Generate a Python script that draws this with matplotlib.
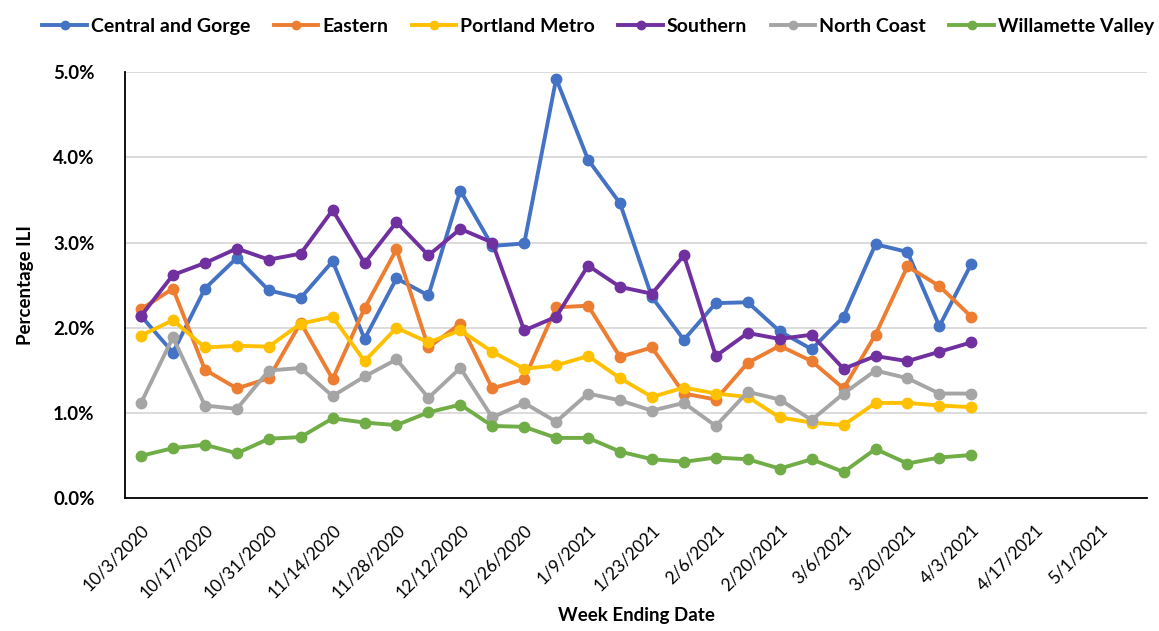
import matplotlib.pyplot as plt
from matplotlib.ticker import PercentFormatter

plt.rcParams['font.family'] = ['Lato', 'DejaVu Sans']

# week ending dates (category axis runs past the data to 5/8/2021)
weeks = ["10/3/2020", "10/10/2020", "10/17/2020", "10/24/2020", "10/31/2020",
         "11/7/2020", "11/14/2020", "11/21/2020", "11/28/2020", "12/5/2020",
         "12/12/2020", "12/19/2020", "12/26/2020", "1/2/2021", "1/9/2021",
         "1/16/2021", "1/23/2021", "1/30/2021", "2/6/2021", "2/13/2021",
         "2/20/2021", "2/27/2021", "3/6/2021", "3/13/2021", "3/20/2021",
         "3/27/2021", "4/3/2021", "4/10/2021", "4/17/2021", "4/24/2021",
         "5/1/2021", "5/8/2021"]

central_gorge = [2.14, 1.71, 2.46, 2.82, 2.44, 2.35, 2.78, 1.87, 2.58, 2.38,
                 3.61, 2.96, 2.99, 4.92, 3.97, 3.46, 2.36, 1.86, 2.29, 2.30,
                 1.96, 1.75, 2.13, 2.98, 2.89, 2.02, 2.75]
eastern = [2.22, 2.46, 1.51, 1.29, 1.41, 2.06, 1.40, 2.23, 2.92, 1.77,
           2.05, 1.29, 1.40, 2.24, 2.26, 1.66, 1.77, 1.23, 1.16, 1.59,
           1.79, 1.61, 1.29, 1.92, 2.72, 2.49, 2.13]
portland = [1.91, 2.09, 1.77, 1.79, 1.78, 2.05, 2.13, 1.61, 2.00, 1.83,
            1.97, 1.72, 1.52, 1.56, 1.67, 1.41, 1.19, 1.30, 1.23, 1.19,
            0.95, 0.89, 0.86, 1.12, 1.12, 1.09, 1.07]
southern = [2.14, 2.62, 2.76, 2.93, 2.80, 2.87, 3.38, 2.76, 3.24, 2.85,
            3.16, 3.00, 1.97, 2.13, 2.73, 2.48, 2.40, 2.85, 1.67, 1.94,
            1.87, 1.92, 1.52, 1.67, 1.61, 1.72, 1.83]
north_coast = [1.12, 1.89, 1.09, 1.05, 1.50, 1.53, 1.20, 1.43, 1.63, 1.18,
               1.53, 0.95, 1.12, 0.90, 1.23, 1.15, 1.03, 1.12, 0.85, 1.25,
               1.16, 0.92, 1.23, 1.50, 1.41, 1.23, 1.23]
willamette = [0.50, 0.59, 0.63, 0.53, 0.70, 0.72, 0.94, 0.89, 0.86, 1.01,
              1.10, 0.85, 0.84, 0.71, 0.71, 0.55, 0.46, 0.43, 0.48, 0.46,
              0.35, 0.46, 0.31, 0.58, 0.41, 0.48, 0.51]

series = [("Central and Gorge", central_gorge, '#4472C4'),
          ("Eastern", eastern, '#ED7D31'),
          ("Portland Metro", portland, '#FFC000'),
          ("Southern", southern, '#7030A0'),
          ("North Coast", north_coast, '#A5A5A5'),
          ("Willamette Valley", willamette, '#70AD47')]

fig = plt.figure(figsize=(11.59, 6.31), dpi=100)
ax = fig.add_axes([0.1079, 0.21, 0.8817, 0.676])

for name, vals, col in series:
    ax.plot(range(len(vals)), vals, '-o', color=col, lw=2.8, ms=7.5, label=name)

ax.set_xlim(-0.5, len(weeks) - 0.5)
ax.set_ylim(0, 5)
ax.set_yticks([0, 1, 2, 3, 4, 5])
ax.yaxis.set_major_formatter(PercentFormatter(decimals=1))
ax.grid(axis='y', color='#D9D9D9', lw=1.3)
ax.set_axisbelow(True)
for s in ['top', 'right']:
    ax.spines[s].set_visible(False)
ax.spines['left'].set_linewidth(1.3)
ax.spines['bottom'].set_linewidth(1.3)
ax.tick_params(length=0)
ax.tick_params(axis='y', labelsize=13.5, pad=22)
for lbl in ax.get_yticklabels():
    lbl.set_fontweight('bold')

ax.set_xticks(range(0, len(weeks), 2))
ax.set_xticklabels(weeks[::2], rotation=45, ha='right', rotation_mode='anchor',
                   fontsize=12.5)
ax.tick_params(axis='x', pad=17)

ax.set_xlabel("Week Ending Date", fontsize=13.5, fontweight='bold')
ax.xaxis.set_label_coords(0.5, -0.255)
ax.set_ylabel("Percentage ILI", fontsize=13.5, fontweight='bold', labelpad=14)

leg = ax.legend(loc='lower center', bbox_to_anchor=(0.463, 1.045), ncol=6,
                frameon=False, prop={'size': 14, 'weight': 'bold'},
                handlelength=2.3, handletextpad=0.2, columnspacing=1.2,
                markerscale=0.8)

fig.savefig('out.png', dpi=100)
